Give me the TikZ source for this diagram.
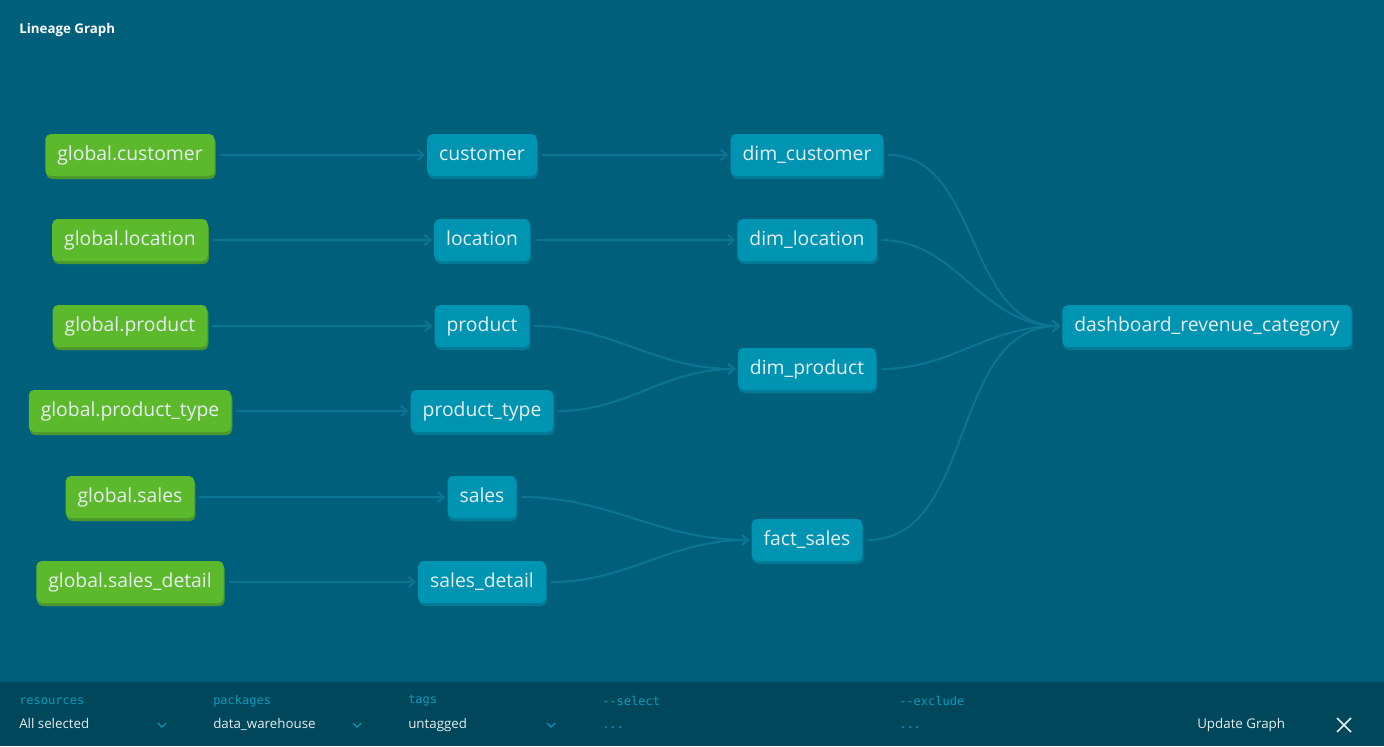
\documentclass[tikz,border=0pt]{standalone}
\usepackage{fontspec}
\setmainfont{Open Sans}
\setmonofont{DejaVu Sans Mono}
\usetikzlibrary{arrows.meta,shadows}

\definecolor{bg}{HTML}{005F7A}
\definecolor{bar}{HTML}{00475C}
\definecolor{src}{HTML}{5DB92C}
\definecolor{srcshadow}{HTML}{4B982C}
\definecolor{mdl}{HTML}{0094B3}
\definecolor{mdlshadow}{HTML}{007A97}
\definecolor{edgecol}{HTML}{0B7694}
\definecolor{txt}{HTML}{E6EFF0}
\definecolor{lbl}{HTML}{0A9CBB}

\tikzset{
  model/.style={rounded corners=4pt, fill=mdl, text=txt,
    font=\fontsize{14.5}{17}\selectfont, minimum height=31.5pt, inner xsep=9pt,
    text height=10.5pt, text depth=2.5pt,
    drop shadow={shadow xshift=0.75pt, shadow yshift=-2.25pt, fill=mdlshadow, opacity=1}},
  source/.style={model, fill=src,
    drop shadow={shadow xshift=0.75pt, shadow yshift=-2.25pt, fill=srcshadow, opacity=1}},
  link/.style={draw=edgecol, line width=1.5pt, -{Straight Barb[length=4.5pt,width=8pt]},
    shorten <=3.5pt, shorten >=1.5pt},
  curved/.style={out=0, in=180},
  field/.style={anchor=west, font=\ttfamily\fontsize{9}{11}\selectfont, text=lbl, inner sep=0pt},
  choice/.style={anchor=west, font=\fontsize{10}{12}\selectfont, text=txt, inner sep=0pt,
    text height=7.5pt, text depth=2pt}
}

\begin{document}
\begin{tikzpicture}[x=0.75pt, y=-0.75pt]
\useasboundingbox (0,0) rectangle (1384,746);
\fill[bg] (0,0) rectangle (1384,746);
\node[anchor=west, text=white, font=\bfseries\fontsize{10}{12}\selectfont, inner sep=0pt] (title) at (19,30) {Lineage Graph};

% sources
\node[source] (1) at (130,155) {global.customer};
\node[source] (2) at (130,240) {global.location};
\node[source] (3) at (130,326) {global.product};
\node[source] (4) at (130,411) {global.product\_type};
\node[source] (5) at (130,497) {global.sales};
\node[source] (6) at (130,582) {global.sales\_detail};

% staging
\node[model] (7) at (482,155) {customer};
\node[model] (8) at (482,240) {location};
\node[model] (9) at (482,326) {product};
\node[model] (10) at (482,411) {product\_type};
\node[model] (11) at (482,497) {sales};
\node[model] (12) at (482,582) {sales\_detail};

% marts
\node[model] (13) at (807,155) {dim\_customer};
\node[model] (14) at (807,240) {dim\_location};
\node[model] (15) at (807,369) {dim\_product};
\node[model] (16) at (807,540) {fact\_sales};
\node[model] (17) at (1207,326) {dashboard\_revenue\_category};

\path[link] (1) edge (7) (2) edge (8) (3) edge (9)
        (4) edge (10) (5) edge (11) (6) edge (12)
        (7) edge (13) (8) edge (14)
        (9) edge[curved] (15) (10) edge[curved] (15)
        (11) edge[curved] (16) (12) edge[curved] (16)
        (13) edge[curved] (17) (14) edge[curved] (17)
        (15) edge[curved] (17) (16) edge[curved] (17);

% filter bar
\fill[bar] (0,682) rectangle (1384,746);
\node[field] (res) at (19,701) {resources};
\node[field] (pkg) at (213,701) {packages};
\node[field] (tag) at (408,701) {tags};
\node[field] (sel) at (602,701) {-{}-select};
\node[field] (exc) at (899,701) {-{}-exclude};
\node[choice] (resv) at (19,725) {All selected};
\node[choice] (pkgv) at (213,725) {data\_warehouse};
\node[choice] (tagv) at (408,725) {untagged};
\node[field] (selv) at (602,728) {...};
\node[field] (excv) at (899,728) {...};
\node[choice] (upd) at (1197,725) {Update Graph};
\foreach \cx in {162,357,551}
  \draw[lbl, line width=0.8pt] (\cx-4,723) -- (\cx,727) -- (\cx+4,723);
\draw[txt, line width=1.2pt] (1337,718) -- (1351,732) (1351,718) -- (1337,732);
\end{tikzpicture}
\end{document}
